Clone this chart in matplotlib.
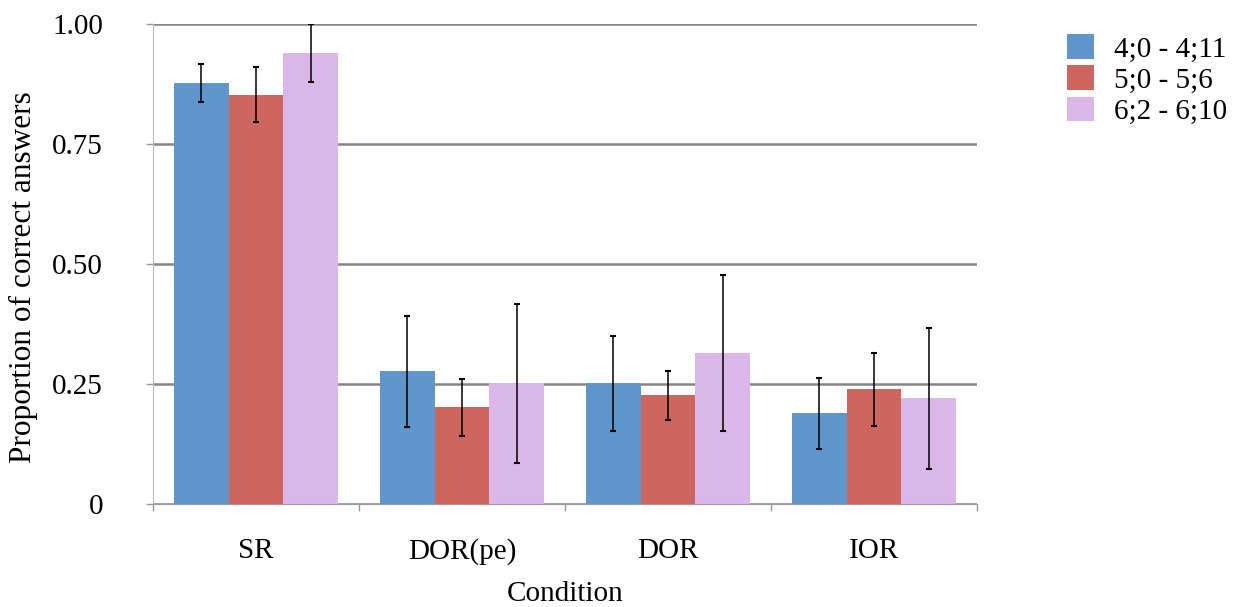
import numpy as np
import matplotlib.pyplot as plt

plt.rcParams['font.family'] = ['Liberation Serif', 'DejaVu Serif']

# Data
conditions = ['SR', 'DOR(pe)', 'DOR', 'IOR']
groups = ['4;0 - 4;11', '5;0 - 5;6', '6;2 - 6;10']
age4 = [0.878, 0.277, 0.252, 0.190]
age5 = [0.853, 0.202, 0.227, 0.240]
age6 = [0.940, 0.252, 0.315, 0.221]
err4 = [0.040, 0.116, 0.099, 0.074]
err5 = [0.057, 0.060, 0.051, 0.076]
err6 = [0.061, 0.166, 0.163, 0.147]

colors = ['#6096c9', '#cc665f', '#dbb6e8']
values = [age4, age5, age6]
errors = [err4, err5, err6]

fig = plt.figure(figsize=(12.36, 6.07), dpi=100)
ax = fig.add_axes([153 / 1236, 1 - 504.3 / 607, 824 / 1236, 480 / 607])

x = np.arange(len(conditions))
w = 0.8 / 3
for i in range(3):
    pos = x - 0.4 + w / 2 + i * w
    ax.bar(pos, values[i], width=w, color=colors[i], label=groups[i], zorder=2)
    ax.errorbar(pos, values[i], yerr=errors[i], fmt='none', ecolor='black',
                elinewidth=1.1, capsize=2.2, capthick=1.5, zorder=3)

ax.set_xlim(-0.5, len(conditions) - 0.5)
ax.set_ylim(0, 1)

# gridlines
ax.set_yticks([0, 0.25, 0.5, 0.75, 1.0])
ax.set_yticklabels(['0', '0.25', '0.50', '0.75', '1.00'])
ax.yaxis.grid(True, color='#858585', linewidth=1.8, zorder=1)
ax.set_axisbelow(True)

# x ticks at category boundaries, labels at centers
ax.set_xticks(np.arange(len(conditions) + 1) - 0.5)
ax.set_xticklabels([])
ax.set_xticks(x, minor=True)
ax.set_xticklabels(conditions, minor=True)
ax.tick_params(axis='x', which='major', direction='out', length=5,
               color='#999999', width=1)
ax.tick_params(axis='x', which='minor', length=0, pad=24, labelsize=21)
ax.tick_params(axis='y', direction='out', length=5, color='#999999',
               width=1, pad=31, labelsize=21)

for s in ['top', 'right']:
    ax.spines[s].set_visible(False)
ax.spines['left'].set_color('#bbbbbb')
ax.spines['bottom'].set_color('#999999')

fig.text(565 / 1236, 1 - 594 / 607, 'Condition', ha='center', va='center',
         fontsize=21)
fig.text(23 / 1236, 1 - 277 / 607, 'Proportion of correct answers',
         ha='center', va='center', rotation=90, fontsize=22.5)

ax.legend(loc='upper left', bbox_to_anchor=(1067 / 1236, 1 - 34 / 607),
          bbox_transform=fig.transFigure, frameon=False, fontsize=21,
          handlelength=0.93, handleheight=0.93, handletextpad=0.69,
          borderpad=0, borderaxespad=0, labelspacing=0.1)

plt.savefig('out.png', dpi=100)
